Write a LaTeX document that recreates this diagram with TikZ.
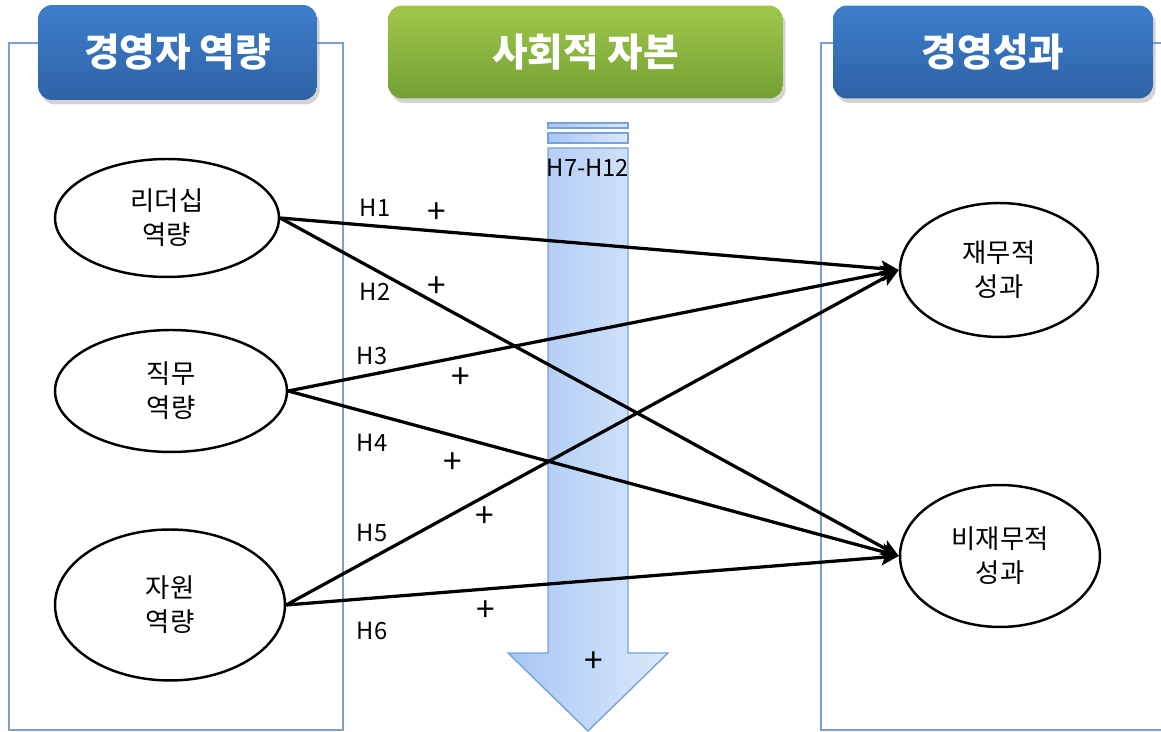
\documentclass[tikz,border=0pt]{standalone}
\usepackage{fontspec}
\setmainfont{Noto Sans CJK KR}
\usetikzlibrary{shapes.geometric,arrows.meta,shadows}
\definecolor{hblueT}{HTML}{3D7ECB}
\definecolor{hblueB}{HTML}{2E62A6}
\definecolor{hgreenT}{HTML}{9FC84A}
\definecolor{hgreenB}{HTML}{74A034}
\definecolor{framec}{HTML}{7C9FD2}
\definecolor{arrL}{HTML}{A6C6F4}
\definecolor{arrR}{HTML}{DDE9FB}
\definecolor{arrD}{HTML}{7AA2DA}
\begin{document}
\begin{tikzpicture}[x=0.02cm,y=-0.02cm,
  header/.style={rounded corners=8pt, inner sep=0pt, text=white,
    font=\fontsize{22}{26}\selectfont\bfseries,
    drop shadow={opacity=0.35, shadow xshift=1.5pt, shadow yshift=-2.5pt}},
  bluehdr/.style={header, top color=hblueT, bottom color=hblueB},
  greenhdr/.style={header, top color=hgreenT, bottom color=hgreenB},
  construct/.style={ellipse, draw=black, line width=1.4pt, fill=white, inner sep=0pt,
    align=center, font=\fontsize{15}{19.4}\selectfont},
  framebox/.style={draw=framec, line width=0.8pt},
  conn/.style={line width=1.85pt, -{Stealth[length=10pt,width=9pt,inset=2pt]}},
  hlab/.style={font=\fontsize{13.5}{16}\selectfont, inner sep=0pt},
  plus/.style={font=\fontsize{19}{20}\selectfont, inner sep=0pt}]
\useasboundingbox (0,0) rectangle (1161,732);
% frames
\draw[framebox] (9,43) -- (9,730) -- (343,730) -- (343,43) -- cycle;
\draw[framebox] (1165,43) -- (821,43) -- (821,730) -- (1165,730);
% headers
\node[bluehdr, minimum width=5.58cm, minimum height=1.9cm] (h1) at (177.5,52.5) {경영자 역량};
\node[greenhdr, minimum width=7.9cm, minimum height=1.86cm] (h2) at (585.5,52) {사회적 자본};
\node[bluehdr, minimum width=6.4cm, minimum height=1.86cm] (h3) at (993,52) {경영성과};
% big arrow
\shade[left color=arrL, right color=arrR, draw=arrD, line width=0.8pt]
  (548,123) rectangle (628,128);
\shade[left color=arrL, right color=arrR, draw=arrD, line width=0.8pt]
  (548,133) rectangle (628,143);
\shade[left color=arrL, right color=arrR, draw=arrD, line width=0.8pt]
  (548,148) -- (628,148) -- (628,653) -- (668,653) -- (588,731) -- (508,653) -- (548,653) -- cycle;
\node[hlab] (h712) at (588,168) {H7-H12};
% constructs
\node[construct, minimum width=4.48cm, minimum height=2.36cm] (e1) at (167,218) {리더십\\역량};
\node[construct, minimum width=4.64cm, minimum height=2.44cm] (e2) at (171,391) {직무\\역량};
\node[construct, minimum width=4.6cm, minimum height=3.02cm] (e3) at (170,605) {자원\\역량};
\node[construct, minimum width=3.96cm, minimum height=2.68cm] (r1) at (999,270) {재무적\\성과};
\node[construct, minimum width=4.0cm, minimum height=2.84cm] (r2) at (1000,556) {비재무적\\성과};
% connectors
\draw[conn] (e1.east) -- (r1.west);
\draw[conn] (e1.east) -- (r2.west);
\draw[conn] (e2.east) -- (r1.west);
\draw[conn] (e2.east) -- (r2.west);
\draw[conn] (e3.east) -- (r1.west);
\draw[conn] (e3.east) -- (r2.west);
% labels
\node[hlab] (l1) at (375,208) {H1};
\node[hlab] (l2) at (375,292) {H2};
\node[hlab] (l3) at (372,356) {H3};
\node[hlab] (l4) at (372,443) {H4};
\node[hlab] (l5) at (372,533) {H5};
\node[hlab] (l6) at (372,631) {H6};
\node[plus] (p1) at (437,213) {+};
\node[plus] (p2) at (437,287) {+};
\node[plus] (p3) at (461,378) {+};
\node[plus] (p4) at (453,463) {+};
\node[plus] (p5) at (485,517) {+};
\node[plus] (p6) at (486,611) {+};
\node[plus] (p7) at (594,662) {+};
\end{tikzpicture}
\end{document}
